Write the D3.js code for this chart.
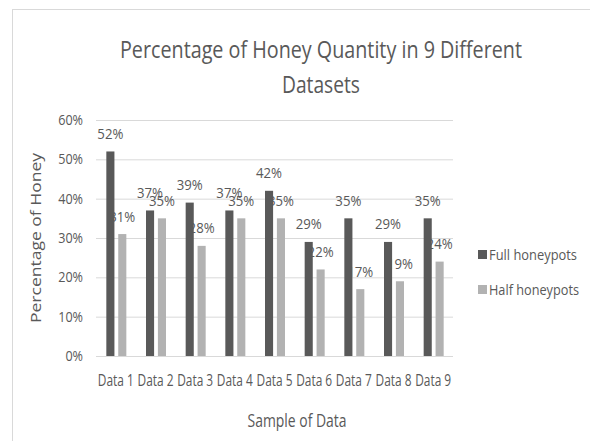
<!DOCTYPE html>
<html>
<head>
<meta charset="utf-8">
<script src="https://cdn.jsdelivr.net/npm/d3@7"></script>
<style>
  body { margin: 0; background: #fff; }
  text { font-family: "Open Sans", "Liberation Sans", sans-serif; fill: #595959; }
</style>
</head>
<body>
<div id="chartDiv"></div>
<script>
const categories = ["Data 1", "Data 2", "Data 3", "Data 4", "Data 5", "Data 6", "Data 7", "Data 8", "Data 9"];
const seriesNames = ["Full honeypots", "Half honeypots"];
const fullValues = [52, 37, 39, 37, 42, 29, 35, 29, 35];
const halfValues = [31, 35, 28, 35, 35, 22, 17, 19, 24];
const yTicks = [0, 10, 20, 30, 40, 50, 60];

const width = 590, height = 441;
const margin = {top: 120, right: 137, bottom: 85, left: 96};
const colors = ["#595959", "#b2b2b2"];

// the original font is narrow, so squeeze the text horizontally
function squeeze(sel, k) {
    sel.each(function () {
        let w = this.getComputedTextLength();
        d3.select(this)
            .attr("textLength", w * k)
            .attr("lengthAdjust", "spacingAndGlyphs");
    });
}

let svg = d3.select("#chartDiv").append("svg")
    .attr("width", width)
    .attr("height", height);

// chart border
svg.append("rect")
    .attr("x", 12.5).attr("y", 9.5)
    .attr("width", width + 10).attr("height", height + 10)
    .style("fill", "none").style("stroke", "#d9d9d9");

let x = d3.scaleBand()
    .domain(categories)
    .range([margin.left, width - margin.right]);

let x1 = d3.scaleBand()
    .domain(seriesNames)
    .range([x.bandwidth() / 2 - 9.5, x.bandwidth() / 2 + 10.5])
    .paddingInner(0.32);

let y = d3.scaleLinear()
    .domain([0, 60])
    .range([height - margin.bottom, margin.top]);

// gridlines + y labels
let yAxis = d3.axisLeft(y)
    .tickValues(yTicks)
    .tickSize(-(width - margin.left - margin.right))
    .tickPadding(13)
    .tickFormat(d => d + "%");

let gy = svg.append("g")
    .attr("transform", `translate(${margin.left}, 0)`)
    .call(yAxis);
gy.select(".domain").remove();
gy.selectAll(".tick line").style("stroke", "#d9d9d9");
gy.selectAll(".tick text").style("font-size", "14px");
squeeze(gy.selectAll(".tick text"), 0.9);

let xAxis = d3.axisBottom(x).tickSize(0).tickPadding(18);
let gx = svg.append("g")
    .attr("transform", `translate(0, ${height - margin.bottom})`)
    .call(xAxis);
gx.select(".domain").remove();
gx.selectAll(".tick text")
    .style("font-size", "17px")
    .attr("textLength", 36)
    .attr("lengthAdjust", "spacingAndGlyphs");

const rows = categories.map((c, i) => ({cat: c, values: [fullValues[i], halfValues[i]]}));

let groups = svg.selectAll("g.group")
    .data(rows)
    .enter().append("g")
    .attr("class", "group")
    .attr("transform", d => `translate(${x(d.cat)}, 0)`);

groups.selectAll("rect")
    .data(d => d.values.map((v, j) => ({name: seriesNames[j], value: v, j: j})))
    .enter().append("rect")
    .attr("x", d => x1(d.name))
    .attr("width", x1.bandwidth())
    .attr("y", d => y(d.value))
    .attr("height", d => y(0) - y(d.value))
    .style("fill", d => colors[d.j]);

let valueLabels = groups.selectAll("text.valueLabel")
    .data(d => d.values.map((v, j) => ({name: seriesNames[j], value: v, j: j})))
    .enter().append("text")
    .attr("class", "valueLabel")
    .attr("x", d => x1(d.name) + x1.bandwidth() / 2)
    .attr("y", d => y(d.value) - 12.5)
    .style("text-anchor", "middle")
    .style("font-size", "15px")
    .text(d => d.value + "%");
squeeze(valueLabels, 0.88);

// title
svg.append("text")
    .attr("x", 321).attr("y", 58)
    .style("text-anchor", "middle")
    .style("font-size", "23px")
    .attr("textLength", 402)
    .attr("lengthAdjust", "spacingAndGlyphs")
    .text("Percentage of Honey Quantity in 9 Different");
svg.append("text")
    .attr("x", 321).attr("y", 93)
    .style("text-anchor", "middle")
    .style("font-size", "23px")
    .attr("textLength", 78)
    .attr("lengthAdjust", "spacingAndGlyphs")
    .text("Datasets");

// axis titles
svg.append("text")
    .attr("transform", `translate(41, 238) rotate(-90)`)
    .style("text-anchor", "middle")
    .style("font-size", "15px")
    .attr("textLength", 170)
    .attr("lengthAdjust", "spacingAndGlyphs")
    .text("Percentage of Honey");

svg.append("text")
    .attr("x", 297).attr("y", 427)
    .style("text-anchor", "middle")
    .style("font-size", "18px")
    .attr("textLength", 99)
    .attr("lengthAdjust", "spacingAndGlyphs")
    .text("Sample of Data");

// legend
let legend = svg.selectAll("g.legend")
    .data(seriesNames)
    .enter().append("g")
    .attr("class", "legend")
    .attr("transform", (d, i) => `translate(478, ${250 + i * 35})`);
legend.append("rect")
    .attr("x", 0).attr("y", 0)
    .attr("width", 9).attr("height", 9)
    .style("fill", (d, i) => colors[i]);
legend.append("text")
    .attr("x", 11).attr("y", 10)
    .style("font-size", "15px")
    .attr("textLength", (d, i) => i === 0 ? 88 : 90)
    .attr("lengthAdjust", "spacingAndGlyphs")
    .text(d => d);
</script>
</body>
</html>
